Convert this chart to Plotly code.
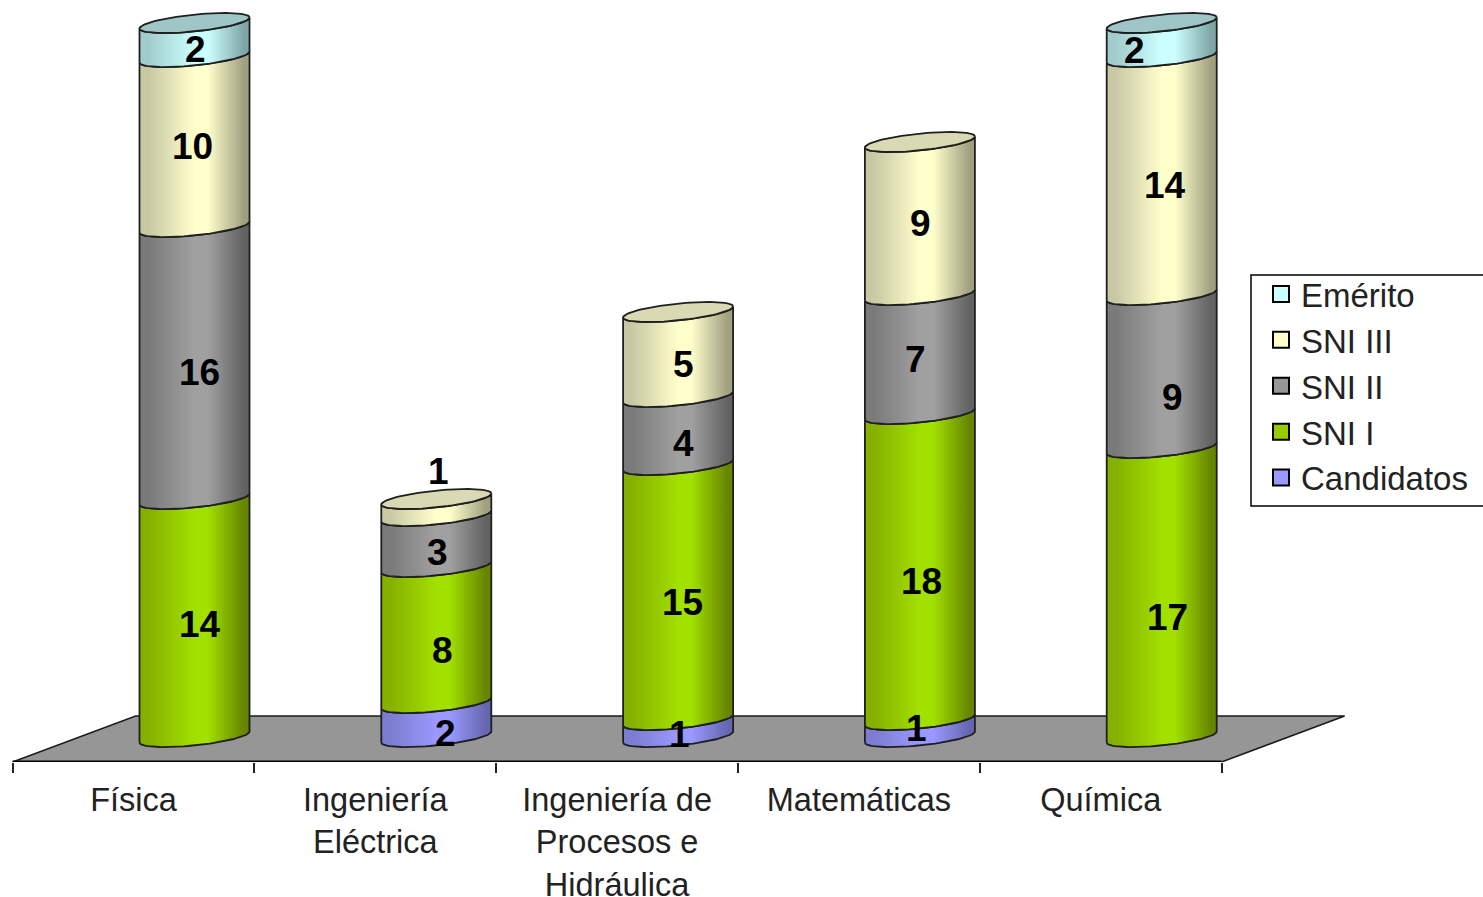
import numpy as np
import plotly.graph_objects as go

# ---- data ----
CATEGORIES = ["Física", "Ingeniería<br>Eléctrica", "Ingeniería de<br>Procesos e<br>Hidráulica", "Matemáticas", "Química"]
CANDIDATOS = [0, 2, 1, 1, 0]
SNI_I = [14, 8, 15, 18, 17]
SNI_II = [16, 3, 4, 7, 9]
SNI_III = [10, 1, 5, 9, 14]
EMERITO = [2, 0, 0, 0, 2]
SERIES_NAMES = ["Candidatos", "SNI I", "SNI II", "SNI III", "Emérito"]

# ---- style ----
# (edge dark, mid, edge darker, top cap)
COLORS = {
    "Candidatos": ("#7c7cd0", "#9999ff", "#6666b0", "#b0b0e0"),
    "SNI I": ("#86b000", "#a2e000", "#668500", "#8fb800"),
    "SNI II": ("#7a7a7a", "#a0a0a0", "#626262", "#b0b0b0"),
    "SNI III": ("#c8c8a4", "#ffffcc", "#a0a080", "#d9d9b4"),
    "Emérito": ("#a0cccc", "#ccffff", "#7fa6a6", "#9fc6c6"),
}
SWATCH = {"Candidatos": "#9999ff", "SNI I": "#99cc00", "SNI II": "#969696", "SNI III": "#ffffcc", "Emérito": "#ccffff"}
# pixel nudges of the data labels, same order as the series
NUDGE_X = [[0, 5, 5, -2, 1], [9, 6, 1, 2, 0], [1, 4, 5, 5, 0], [-3, 2, -4, 1, 0], [0, 6, 11, 3, -27]]
NUDGE_Y = [[0, 6, 9, 4, 9], [13, 15, 11, -36, 0], [6, 10, 12, 10, 0], [0, 14, 5, 5, 0], [0, 25, 26, 9, 10]]

FONT = "Liberation Sans, Arial, sans-serif"

W, H = 1483, 897
AXIS_PX = 762           # pixel row of the category axis
BASE_PX = 737           # pixel row of value 0
PX_PER_UNIT = 17.0
PX_PER_CAT = 241.8
CAT0_PX = 133.5
BAR_SHIFT = 61 / PX_PER_CAT   # cylinders stand behind the tick labels
RX = 55 / PX_PER_CAT
RY = 8.4 / PX_PER_UNIT
TILT = 5.5 / PX_PER_UNIT
FLOOR_DX = 123 / PX_PER_CAT
FLOOR_TOP = (BASE_PX - 716) / PX_PER_UNIT
Y_MIN = (BASE_PX - AXIS_PX) / PX_PER_UNIT
Y_MAX = BASE_PX / PX_PER_UNIT
X_MIN = -CAT0_PX / PX_PER_CAT
X_MAX = (W - CAT0_PX) / PX_PER_CAT


def arc(cx, v, t0, t1, n=40):
    t = np.linspace(t0, t1, n)
    return cx + RX * np.cos(t), v + TILT * np.cos(t) + RY * np.sin(t)


def grad(c):
    return dict(type="horizontal", colorscale=[[0, c[0]], [0.08, c[0]], [0.5, c[1]], [0.62, c[1]], [0.95, c[2]], [1, c[2]]])


fig = go.Figure()

# floor of the 3d chart
fig.add_trace(go.Scatter(
    x=[-0.5, 4.5, 4.5 + FLOOR_DX, -0.5 + FLOOR_DX, -0.5], y=[Y_MIN, Y_MIN, FLOOR_TOP, FLOOR_TOP, Y_MIN],
    mode="lines", fill="toself", fillcolor="#969696", line=dict(color="#1a1a1a", width=1.5),
    showlegend=False, hoverinfo="skip"))
fig.add_trace(go.Scatter(
    x=[-0.5, 4.5], y=[Y_MIN, Y_MIN], mode="lines", line=dict(color="black", width=3),
    cliponaxis=False, showlegend=False, hoverinfo="skip"))

all_series = [CANDIDATOS, SNI_I, SNI_II, SNI_III, EMERITO]
annotations = []
for i, cat in enumerate(CATEGORIES):
    cx = i + BAR_SHIFT
    bottom = 0
    last = None
    for j, name in enumerate(SERIES_NAMES):
        val = all_series[j][i]
        if val == 0:
            continue
        top = bottom + val
        x0, y0 = arc(cx, bottom, np.pi, 2 * np.pi)
        x1, y1 = arc(cx, top, 2 * np.pi, np.pi)
        fig.add_trace(go.Scatter(
            x=np.r_[x0, x1, x0[0]], y=np.r_[y0, y1, y0[0]], mode="lines", fill="toself",
            fillgradient=grad(COLORS[name]), line=dict(color="#1f1f1f", width=1.8),
            showlegend=False, hoverinfo="skip"))
        annotations.append(dict(
            x=cx, y=(bottom + top) / 2, text=str(val), showarrow=False,
            xshift=NUDGE_X[i][j], yshift=-NUDGE_Y[i][j],
            font=dict(family=FONT, size=37, weight=700, color="black")))
        bottom = top
        last = name
    # top cap
    xc, yc = arc(cx, bottom, 0, 2 * np.pi, 80)
    fig.add_trace(go.Scatter(
        x=xc, y=yc, mode="lines", fill="toself", fillcolor=COLORS[last][3],
        line=dict(color="#1f1f1f", width=1.8), showlegend=False, hoverinfo="skip"))

# legend entries, top one first
for name in SERIES_NAMES[::-1]:
    fig.add_trace(go.Scatter(
        x=[None], y=[None], mode="markers", name=name,
        marker=dict(symbol="square", size=16, color=SWATCH[name], line=dict(color="black", width=2))))

fig.update_layout(
    width=W, height=H, autosize=False,
    margin=dict(l=0, r=0, t=0, b=H - AXIS_PX, autoexpand=False),
    paper_bgcolor="white", plot_bgcolor="white",
    annotations=annotations,
    xaxis=dict(
        range=[X_MIN, X_MAX], showgrid=False, zeroline=False, showline=False,
        tickmode="array", tickvals=list(range(len(CATEGORIES))), ticktext=CATEGORIES,
        ticks="outside", ticklen=9, tickcolor="rgba(0,0,0,0)",
        tickfont=dict(family=FONT, size=32.5, color="#222222"),
        minor=dict(tickmode="array", tickvals=[k - 0.5 for k in range(len(CATEGORIES) + 1)],
                   ticks="outside", ticklen=10, tickcolor="#222222", tickwidth=1.5, showgrid=False)),
    yaxis=dict(range=[Y_MIN, Y_MAX], visible=False),
    # legend frame is a shape: the native box is taller than the original one
    shapes=[dict(type="rect", xref="paper", yref="paper", layer="below",
                 x0=1251 / W, x1=1.01, y0=(AXIS_PX - 506) / AXIS_PX, y1=(AXIS_PX - 275) / AXIS_PX,
                 line=dict(color="black", width=1.5), fillcolor="white")],
    legend=dict(
        x=1251 / W, xanchor="left", y=(AXIS_PX - 266) / AXIS_PX, yanchor="top",
        bgcolor="rgba(0,0,0,0)", borderwidth=0,
        font=dict(family=FONT, size=33, color="#222222"),
        entrywidth=190, indentation=10, traceorder="normal"),
)

# page margin would push the picture 8px off
fig.write_html("out.html", config=dict(displayModeBar=False), post_script="document.body.style.margin='0';")
